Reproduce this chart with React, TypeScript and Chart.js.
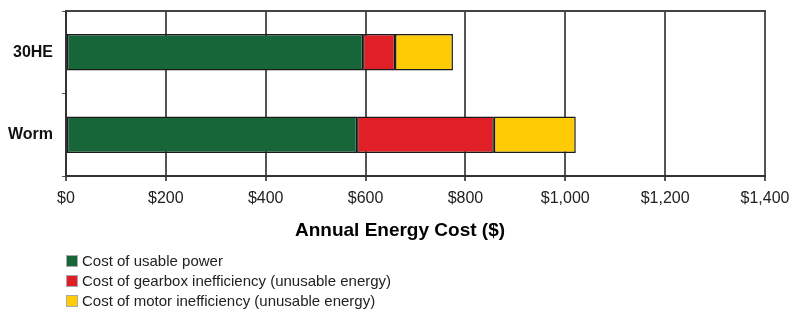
import React, { useEffect, useRef } from "react";
import { Chart, registerables } from "chart.js";

Chart.register(...registerables);

const categories = ["30HE", "Worm"];
const usablePower = [595, 583];
const gearboxLoss = [64, 274];
const motorLoss = [116, 164];
const tickValues = [0, 200, 400, 600, 800, 1000, 1200, 1400];
const axisTitle = "Annual Energy Cost ($)";
const seriesNames = [
  "Cost of usable power",
  "Cost of gearbox inefficiency (unusable energy)",
  "Cost of motor inefficiency (unusable energy)",
];
const seriesColors = ["#17663a", "#e11f27", "#ffcb05"];

const FONT = "'Liberation Sans', Arial, Helvetica, sans-serif";

export default function App() {
  const ref = useRef<HTMLCanvasElement | null>(null);

  useEffect(() => {
    if (!ref.current) return;
    const extras = {
      id: "extras",
      afterDraw(chart: any) {
        const { ctx, chartArea } = chart;
        ctx.save();
        // top border of plot
        ctx.strokeStyle = "#444";
        ctx.lineWidth = 2;
        ctx.beginPath();
        ctx.moveTo(chartArea.left, chartArea.top);
        ctx.lineTo(chartArea.right + 1, chartArea.top);
        ctx.stroke();
        // axis title
        ctx.fillStyle = "#000";
        ctx.font = `bold 19px ${FONT}`;
        ctx.textAlign = "center";
        ctx.textBaseline = "middle";
        ctx.fillText(axisTitle, 400, 231);
        // legend
        ctx.font = `15px ${FONT}`;
        ctx.textAlign = "left";
        seriesNames.forEach((name, i) => {
          const cy = 261 + i * 20;
          ctx.fillStyle = seriesColors[i];
          ctx.fillRect(66, cy - 6, 12, 12);
          ctx.strokeStyle = "#aaa";
          ctx.lineWidth = 1;
          ctx.strokeRect(66.5, cy - 5.5, 11, 11);
          ctx.fillStyle = "#222";
          ctx.fillText(name, 82, cy + 1);
        });
        ctx.restore();
      },
    };

    const chart = new Chart(ref.current, {
      type: "bar",
      data: {
        labels: categories,
        datasets: [usablePower, gearboxLoss, motorLoss].map((d, i) => ({
          label: seriesNames[i],
          data: d,
          backgroundColor: seriesColors[i],
          borderColor: "#1a1a1a",
          borderWidth: 1.5,
          borderSkipped: false,
          barPercentage: 0.44,
          categoryPercentage: 1,
        })),
      },
      options: {
        indexAxis: "y",
        responsive: false,
        animation: false,
        layout: { padding: { top: 11, right: 24, left: 0, bottom: 0 } },
        plugins: { legend: { display: false }, tooltip: { enabled: false }, title: { display: false } },
        scales: {
          x: {
            stacked: true,
            min: 0,
            max: 1400,
            afterBuildTicks: (scale: any) => {
              scale.ticks = tickValues.map((v) => ({ value: v }));
            },
            afterFit: (scale: any) => {
              scale.height = 136;
              scale.paddingLeft = 0;
              scale.paddingRight = 0;
              scale.paddingTop = 0;
              scale.paddingBottom = 0;
            },
            ticks: {
              font: { family: FONT, size: 16 },
              color: "#222",
              padding: 8,
              maxRotation: 0,
              autoSkip: false,
              callback: (v: any) => "$" + Number(v).toLocaleString("en-US"),
            },
            grid: { color: "#555", lineWidth: 2, tickLength: 5, tickColor: "#555" },
            border: { display: true, color: "#333", width: 2 },
          },
          y: {
            stacked: true,
            afterFit: (scale: any) => {
              scale.width = 66;
              scale.paddingLeft = 0;
              scale.paddingRight = 0;
              scale.paddingTop = 0;
              scale.paddingBottom = 0;
            },
            ticks: { font: { family: FONT, size: 16, weight: "bold" }, color: "#111", padding: 9 },
            grid: { drawOnChartArea: false, tickLength: 4, color: "#555", lineWidth: 1 },
            border: { display: true, color: "#333", width: 2 },
          },
        },
      },
      plugins: [extras],
    } as any);
    return () => chart.destroy();
  }, []);

  return (
    <div style={{ position: "fixed", left: 0, top: 0, width: 789, height: 312, background: "#fff" }}>
      <canvas ref={ref} width={789} height={312} />
    </div>
  );
}
